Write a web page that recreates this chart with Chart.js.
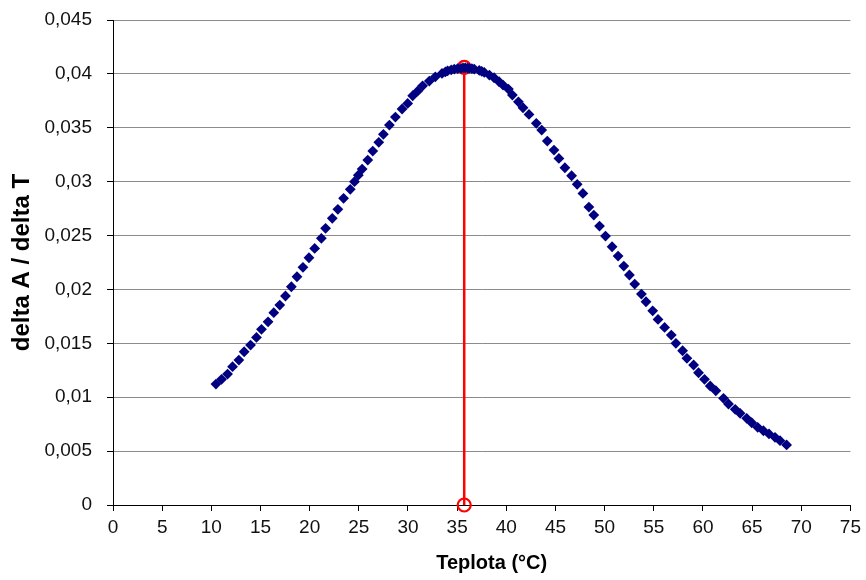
<!DOCTYPE html>
<html>
<head>
<meta charset="utf-8">
<script src="https://cdn.jsdelivr.net/npm/chart.js@4"></script>
<style>
  html, body { margin: 0; padding: 0; background: #fff; }
  #wrap { width: 866px; height: 580px; }
</style>
</head>
<body>
<div id="wrap"><canvas id="chart" width="866" height="580"></canvas></div>
<script>
// temperature (°C)
const teplota = [
  10.47, 11.04, 11.65, 12.16, 12.80, 13.34, 13.99, 14.59, 15.10, 15.77,
  16.35, 16.96, 17.54, 18.14, 18.71, 19.32, 19.93, 20.51, 21.19, 21.62,
  22.30, 22.87, 23.45, 24.13, 24.56, 24.95, 25.34, 25.91, 26.42, 27.03,
  27.50, 28.11, 28.72, 29.40, 29.97, 30.48, 30.98, 31.49, 32.17, 32.78,
  33.46, 33.80, 34.03, 34.40, 34.71, 35.05, 35.39, 35.60, 35.82, 36.05,
  36.24, 36.50, 36.74, 37.25, 37.50, 37.76, 38.28, 38.76, 39.27, 39.67,
  40.21, 40.62, 41.23, 41.70, 42.31, 43.05, 43.60, 44.17, 44.85, 45.35,
  45.96, 46.64, 47.21, 47.79, 48.40, 48.90, 49.48, 50.09, 50.76, 51.37,
  51.95, 52.52, 53.06, 53.74, 54.21, 54.89, 55.43, 56.10, 56.78, 57.25,
  57.93, 58.37, 59.05, 59.55, 60.16, 60.74, 61.31, 62.09, 62.60, 63.28,
  63.78, 64.45, 64.96, 65.57, 66.15, 66.72, 67.33, 67.84, 68.51
]
// delta A / delta T
const deltaAT = [
  .01122, .01166, .01215, .01283, .01345, .01422, .01484, .01555, .01630, .01700,
  .01784, .01855, .01939, .02025, .02118, .02205, .02294, .02381, .02474, .02567,
  .02660, .02743, .02845, .02929, .03000, .03060, .03117, .03200, .03284, .03365,
  .03439, .03525, .03599, .03674, .03726, .03797, .03840, .03889, .03933, .03973,
  .04004, .04018, .04028, .04038, .04044, .04049, .04052, .04055, .04056, .04054,
  .04051, .04048, .04045, .04032, .04024, .04014, .03989, .03964, .03927, .03896,
  .03859, .03803, .03741, .03686, .03624, .03541, .03479, .03377, .03293, .03216,
  .03129, .03055, .02975, .02891, .02764, .02690, .02588, .02495, .02396, .02310,
  .02217, .02134, .02050, .01957, .01886, .01802, .01722, .01648, .01577, .01500,
  .01431, .01361, .01299, .01227, .01166, .01104, .01060, .00990, .00937, .00888,
  .00851, .00804, .00763, .00721, .00689, .00659, .00628, .00597, .00557
]
// maximum marker (vertical red line)
const peakX = [35.72, 35.72]
const peakY = [0, 0.0406]

const FONT = 'Arial, "Liberation Sans", sans-serif'
const fmt = v => String(+(+v).toFixed(3)).replace('.', ',')

new Chart(document.getElementById('chart').getContext('2d'), {
  type: 'scatter',
  data: {
    datasets: [
      {
        label: 'data',
        data: teplota.map((x, i) => ({ x, y: deltaAT[i] })),
        pointStyle: 'rectRot', pointRadius: 5.4, pointBorderWidth: 0,
        backgroundColor: '#000080', borderColor: '#000080',
        order: 1
      },
      {
        label: 'max',
        data: peakX.map((x, i) => ({ x, y: peakY[i] })),
        showLine: true, borderColor: '#ff0000', borderWidth: 2.5,
        pointStyle: 'circle', pointRadius: 6.5, pointBorderWidth: 2.2,
        pointBorderColor: '#ff0000', pointBackgroundColor: 'rgba(255,255,255,0)',
        clip: false, order: 2
      }
    ]
  },
  options: {
    responsive: false, animation: false,
    layout: { padding: { left: 0, right: 14, top: 20, bottom: 0 } },
    plugins: { legend: { display: false }, tooltip: { enabled: false } },
    scales: {
      x: {
        type: 'linear', min: 0, max: 75,
        afterFit: s => { s.height = 75 },
        ticks: { stepSize: 5, color: '#111', padding: 5, maxRotation: 0,
                 font: { family: FONT, size: 19 } },
        grid: { drawOnChartArea: false, tickLength: 6, tickColor: '#000' },
        border: { color: '#000', width: 1 },
        title: { display: true, text: '\u2003Teplota (°C)', color: '#000',
                 font: { family: FONT, size: 20, weight: 'bold' }, padding: { top: 0, bottom: 5 } }
      },
      y: {
        min: 0, max: 0.045,
        afterFit: s => { s.width = 113; s.paddingTop = 0; s.paddingBottom = 0 },
        ticks: { stepSize: 0.005, color: '#111', padding: 15, callback: fmt,
                 font: { family: FONT, size: 19 } },
        grid: { color: '#8c8c8c', lineWidth: 1, tickLength: 6, tickColor: '#000' },
        border: { color: '#000', width: 1 },
        title: { display: true, text: 'delta A / delta T', color: '#000',
                 font: { family: FONT, size: 24, weight: 'bold' }, padding: { top: 8, bottom: 0 } }
      }
    }
  }
})
</script>
</body>
</html>
